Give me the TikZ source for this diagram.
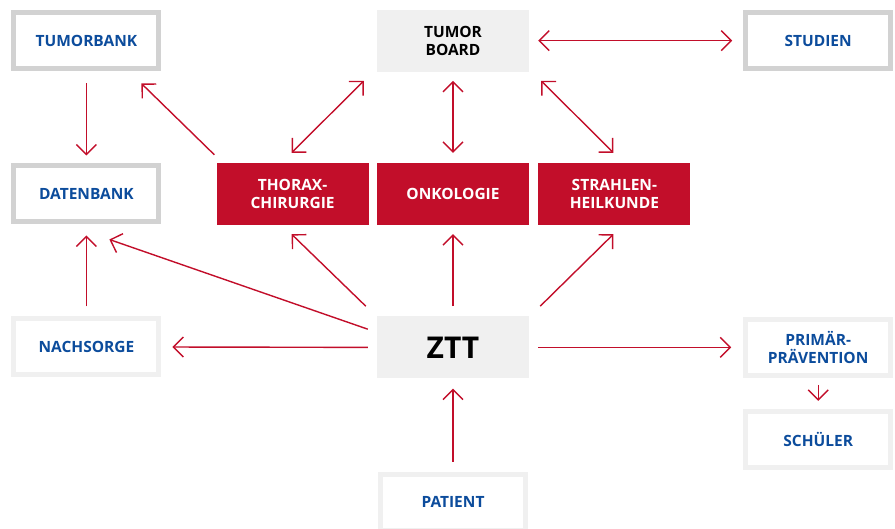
\documentclass[tikz,border=0pt]{standalone}
\usepackage{fontspec}
\setmainfont{Open Sans}
\usetikzlibrary{positioning,arrows.meta}
\definecolor{zred}{HTML}{C20E2A}
\definecolor{zblue}{HTML}{0C4C9C}
\definecolor{zgray}{HTML}{D2D2D2}
\definecolor{zlight}{HTML}{F0F0F0}

\begin{document}
\begin{tikzpicture}[
          txt/.style={font=\bfseries\fontsize{15.5}{18}\selectfont,align=center},
          graybox/.style={txt,draw=zgray,line width=5pt,text=zblue,minimum width=145pt,minimum height=56pt},
          lightbox/.style={graybox,draw=zlight},
          redbox/.style={txt,fill=zred,text=white,minimum width=152pt,minimum height=62pt},
          boardbox/.style={txt,fill=zlight,text=black,minimum width=152pt,minimum height=62pt},
          arr/.style={draw=zred,line width=1.4pt,-{Straight Barb[length=10pt,width=20pt]}},
          darr/.style={arr,{Straight Barb[length=10pt,width=20pt]}-{Straight Barb[length=10pt,width=20pt]}}
            ]
    \useasboundingbox (0,-529pt) rectangle (895pt,0);
    % middle row
    \node[redbox] (onk) at (453pt,-194pt) {ONKOLOGIE};
    \node[redbox,left=8pt of onk] (thorax) {THORAX-\\CHIRURGIE};
    \node[redbox,right=9pt of onk] (strahl) {STRAHLEN-\\HEILKUNDE};
    \node[boardbox,above=91pt of onk] (board) {TUMOR\\BOARD};
    \node[boardbox,below=91pt of onk,font=\bfseries\fontsize{30}{30}\selectfont] (ztt) {ZTT};
    \node[lightbox,below=93pt of ztt] (patient) {PATIENT};
    % left column
    \node[graybox,left=55pt of thorax] (datenbank) {DATENBANK};
    \node[graybox,above=92pt of datenbank] (tumorbank) {TUMORBANK};
    \node[lightbox,below=92pt of datenbank] (nachsorge) {NACHSORGE};
    % right column
    \node[graybox,right=214pt of board] (studien) {STUDIEN};
    \node[lightbox,right=214pt of ztt] (primaer) {PRIMÄR-\\PRÄVENTION};
    \node[lightbox,below=31pt of primaer] (schueler) {SCHÜLER};

    % connectors
    \draw[arr,shorten <=12pt,shorten >=8pt] (tumorbank.south) -- (datenbank.north);
    \draw[arr] ([shift={(-2pt,8pt)}]thorax.north west) -- ([shift={(-20pt,-12pt)}]tumorbank.south east);
    \draw[darr] ([shift={(-1pt,10pt)}]thorax.north) -- ([shift={(-13pt,-9pt)}]board.south west);
    \draw[darr,shorten <=9pt,shorten >=10pt] (board.south) -- (onk.north);
    \draw[darr] ([shift={(12pt,-9pt)}]board.south east) -- ([shift={(-1pt,10pt)}]strahl.north);
    \draw[darr,shorten <=9pt,shorten >=11pt] (board.east) -- (studien.west);
    \draw[arr] ([shift={(-9pt,-13pt)}]ztt.north west) -- ([shift={(23pt,-15pt)}]datenbank.south);
    \draw[arr,shorten <=10pt,shorten >=11pt] (nachsorge.north) -- (datenbank.south);
    \draw[arr,shorten <=9pt,shorten >=11pt] (ztt.west) -- (nachsorge.east);
    \draw[arr] ([shift={(-11pt,10pt)}]ztt.north west) -- ([shift={(-1pt,-9pt)}]thorax.south);
    \draw[arr,shorten <=10pt,shorten >=9pt] (ztt.north) -- (onk.south);
    \draw[arr] ([shift={(11pt,10pt)}]ztt.north east) -- ([shift={(-1pt,-9pt)}]strahl.south);
    \draw[arr,shorten <=9pt,shorten >=12pt] (ztt.east) -- (primaer.west);
    \draw[arr,shorten <=10pt,shorten >=10pt] (patient.north) -- (ztt.south);
    \draw[arr,shorten <=7pt,shorten >=8pt] (primaer.south) -- (schueler.north);
\end{tikzpicture}
\end{document}
